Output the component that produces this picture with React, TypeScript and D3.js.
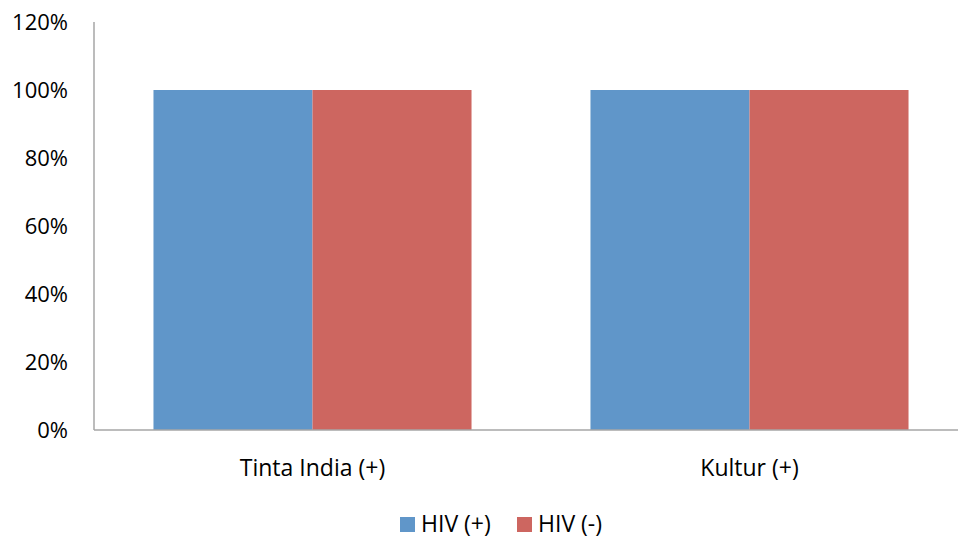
import React, { useRef, useEffect } from 'react';
import * as d3 from 'd3';

const categories = ['Tinta India (+)', 'Kultur (+)'];
const seriesNames = ['HIV (+)', 'HIV (-)'];
const hivPositive = [1, 1];
const hivNegative = [1, 1];
const yTicks = [0, 0.2, 0.4, 0.6, 0.8, 1, 1.2];
const colors = ['#6096C9', '#CD6660'];

const FONT = '"Open Sans", "Liberation Sans", sans-serif';

export default function App() {
    const svgRef = useRef<SVGSVGElement>(null);

    useEffect(() => {
        if (!svgRef.current) return;
        const svg = d3.select(svgRef.current);
        svg.selectAll('*').remove();

        // plot area runs a little past the right edge of the picture
        const left = 94, right = 968, top = 22, bottom = 430;

        const x = d3.scaleBand().domain(categories).range([left, right]).paddingInner(0).paddingOuter(0);
        const inner = d3.scaleBand().domain(seriesNames).range([0, x.bandwidth()]).paddingInner(0).paddingOuter(0.374);
        const y = d3.scaleLinear().domain([0, 1.2]).range([bottom, top]);

        const seriesValues = [hivPositive, hivNegative];

        // bars
        seriesNames.forEach((name, si) => {
            svg.append('g')
                .selectAll('rect')
                .data(categories)
                .enter().append('rect')
                .attr('x', c => x(c)! + inner(name)!)
                .attr('y', (_c, i) => y(seriesValues[si][i]))
                .attr('width', inner.bandwidth())
                .attr('height', (_c, i) => bottom - y(seriesValues[si][i]))
                .attr('fill', colors[si]);
        });

        // axes lines
        svg.append('line')
            .attr('x1', left).attr('x2', left).attr('y1', top).attr('y2', bottom)
            .attr('stroke', '#A6A6A6').attr('stroke-width', 1.5);
        svg.append('line')
            .attr('x1', left).attr('x2', 958).attr('y1', bottom).attr('y2', bottom)
            .attr('stroke', '#A6A6A6').attr('stroke-width', 1.5);

        // y tick labels
        svg.append('g')
            .selectAll('text')
            .data(yTicks)
            .enter().append('text')
            .attr('x', 68)
            .attr('y', d => y(d))
            .attr('dy', '0.36em')
            .attr('text-anchor', 'end')
            .attr('font-family', FONT)
            .attr('font-size', 22)
            .attr('fill', '#000')
            .text(d => d3.format('.0%')(d));

        // category labels
        svg.append('g')
            .selectAll('text')
            .data(categories)
            .enter().append('text')
            .attr('x', c => x(c)! + x.bandwidth() / 2)
            .attr('y', 476)
            .attr('text-anchor', 'middle')
            .attr('font-family', FONT)
            .attr('font-size', 23)
            .attr('fill', '#000')
            .text(c => c);

        // legend
        const legendX = [400, 517];
        const lg = svg.append('g');
        seriesNames.forEach((name, i) => {
            lg.append('rect')
                .attr('x', legendX[i]).attr('y', 517)
                .attr('width', 15).attr('height', 15)
                .attr('fill', colors[i]);
            lg.append('text')
                .attr('x', legendX[i] + 21).attr('y', 532)
                .attr('font-family', FONT)
                .attr('font-size', 23)
                .attr('fill', '#000')
                .text(name);
        });
    }, []);

    return (
        <svg ref={svgRef} width={958} height={540}
            style={{ position: 'absolute', left: 0, top: 0, background: '#fff' }} />
    );
}
